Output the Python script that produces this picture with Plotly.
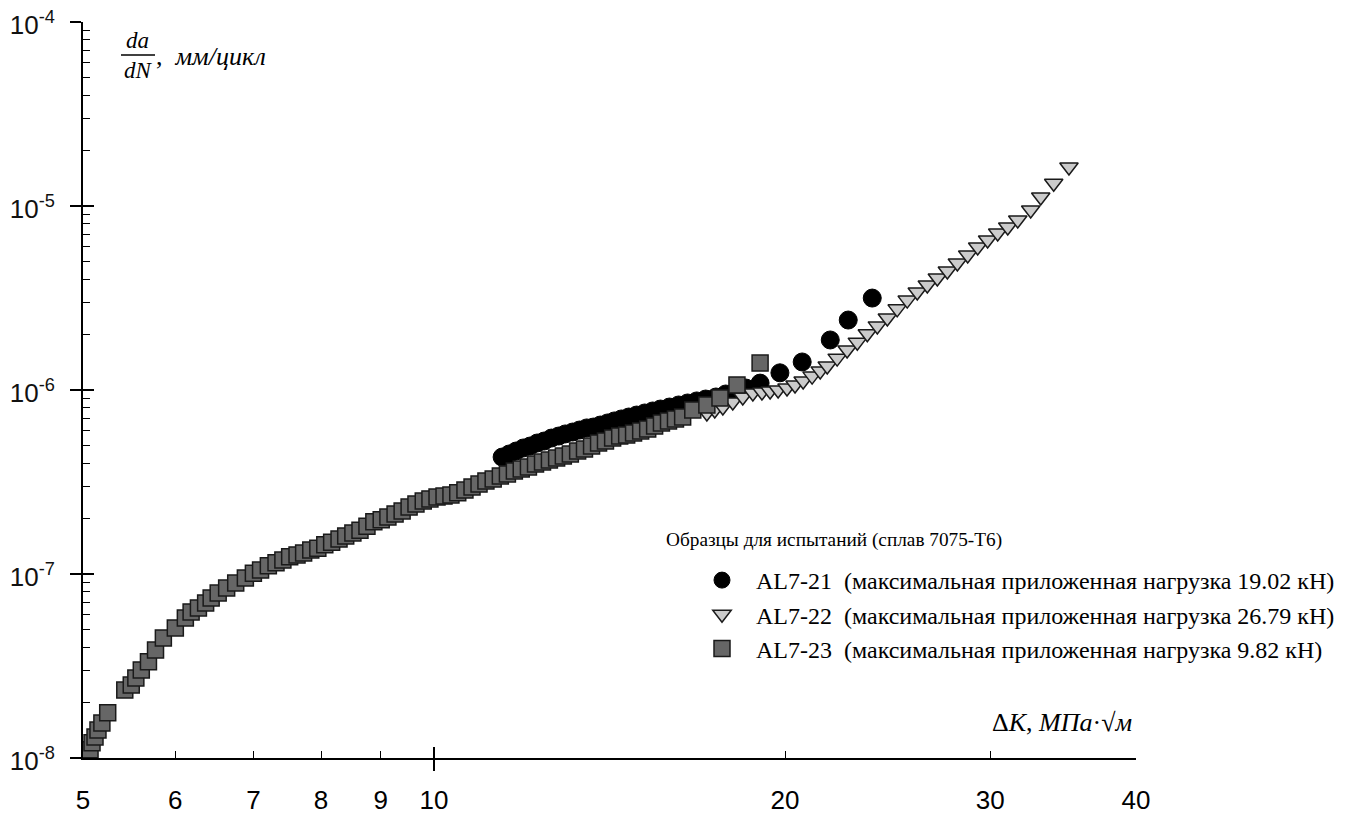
import numpy as np
import plotly.graph_objects as go

# ---------------- data ----------------
al721_dk = [11.44, 11.60, 11.76, 11.93, 12.09, 12.26, 12.43, 12.61, 12.79, 12.96,
            13.15, 13.33, 13.52, 13.70, 13.89, 14.09, 14.28, 14.48, 14.69, 14.92,
            15.16, 15.40, 15.64, 15.92, 16.21, 16.50, 16.80, 17.10, 17.45, 17.79,
            18.15, 18.51, 19.04, 19.80, 20.69, 21.87, 22.66, 23.76]
al721_rate = [4.32e-7, 4.49e-7, 4.66e-7, 4.84e-7, 4.96e-7, 5.15e-7, 5.28e-7, 5.48e-7, 5.62e-7, 5.77e-7,
              5.91e-7, 6.06e-7, 6.22e-7, 6.29e-7, 6.45e-7, 6.62e-7, 6.79e-7, 6.96e-7, 7.13e-7, 7.31e-7,
              7.50e-7, 7.69e-7, 7.88e-7, 8.08e-7, 8.29e-7, 8.50e-7, 8.72e-7, 8.93e-7, 9.16e-7, 9.51e-7,
              9.88e-7, 1.025e-6, 1.09e-6, 1.24e-6, 1.42e-6, 1.87e-6, 2.40e-6, 3.16e-6]

al722_dk = [17.14, 17.41, 17.69, 18.04, 18.40, 18.77, 19.11, 19.42, 19.73, 20.08,
            20.40, 20.73, 21.10, 21.44, 21.74, 22.17, 22.61, 23.07, 23.53, 24.00,
            24.48, 24.96, 25.46, 25.97, 26.49, 27.02, 27.56, 28.11, 28.69, 29.26,
            29.84, 30.44, 31.05, 31.67, 32.49, 33.14, 34.00, 35.04]
al722_rate = [7.50e-7, 7.79e-7, 8.08e-7, 8.61e-7, 9.16e-7, 9.63e-7, 9.75e-7, 9.88e-7, 1.00e-6, 1.025e-6,
              1.065e-6, 1.12e-6, 1.19e-6, 1.27e-6, 1.35e-6, 1.49e-6, 1.65e-6, 1.82e-6, 2.02e-6, 2.23e-6,
              2.46e-6, 2.76e-6, 3.08e-6, 3.41e-6, 3.72e-6, 4.06e-6, 4.43e-6, 4.90e-6, 5.42e-6, 5.99e-6,
              6.54e-6, 7.13e-6, 7.69e-6, 8.39e-6, 9.51e-6, 1.12e-5, 1.33e-5, 1.63e-5]

al723_dk = [5.07, 5.09, 5.12, 5.15, 5.19, 5.25, 5.43, 5.50, 5.55, 5.61,
            5.69, 5.77, 5.86, 6.00, 6.12, 6.19, 6.28, 6.37, 6.44, 6.53,
            6.64, 6.76, 6.89, 7.00, 7.10, 7.21, 7.32, 7.42, 7.52, 7.63,
            7.73, 7.84, 7.95, 8.06, 8.17, 8.29, 8.40, 8.52, 8.64, 8.76,
            8.88, 9.01, 9.13, 9.26, 9.39, 9.52, 9.65, 9.79, 9.92, 10.06,
            10.20, 10.34, 10.48, 10.63, 10.78, 10.93, 11.08, 11.24, 11.40, 11.56,
            11.72, 11.88, 12.05, 12.22, 12.39, 12.56, 12.74, 12.91, 13.09, 13.28,
            13.46, 13.65, 13.84, 14.03, 14.23, 14.43, 14.63, 14.83, 15.04, 15.25,
            15.46, 15.67, 15.89, 16.11, 16.34, 16.67, 17.14, 17.59, 18.19, 19.04]
al723_rate = [1.11e-8, 1.21e-8, 1.30e-8, 1.42e-8, 1.55e-8, 1.76e-8, 2.34e-8, 2.49e-8, 2.72e-8, 3.01e-8,
              3.33e-8, 3.86e-8, 4.49e-8, 5.09e-8, 5.77e-8, 6.22e-8, 6.54e-8, 6.96e-8, 7.41e-8, 7.88e-8,
              8.39e-8, 8.93e-8, 9.51e-8, 1.01e-7, 1.05e-7, 1.11e-7, 1.15e-7, 1.19e-7, 1.24e-7, 1.27e-7,
              1.30e-7, 1.35e-7, 1.38e-7, 1.44e-7, 1.49e-7, 1.55e-7, 1.61e-7, 1.67e-7, 1.73e-7, 1.82e-7,
              1.92e-7, 1.97e-7, 2.04e-7, 2.12e-7, 2.20e-7, 2.31e-7, 2.40e-7, 2.49e-7, 2.56e-7, 2.62e-7,
              2.65e-7, 2.69e-7, 2.76e-7, 2.86e-7, 2.97e-7, 3.08e-7, 3.20e-7, 3.28e-7, 3.41e-7, 3.50e-7,
              3.63e-7, 3.72e-7, 3.82e-7, 3.96e-7, 4.06e-7, 4.16e-7, 4.27e-7, 4.38e-7, 4.49e-7, 4.66e-7,
              4.78e-7, 4.96e-7, 5.15e-7, 5.28e-7, 5.48e-7, 5.62e-7, 5.69e-7, 5.84e-7, 5.99e-7, 6.14e-7,
              6.37e-7, 6.62e-7, 6.79e-7, 6.96e-7, 7.13e-7, 7.79e-7, 8.29e-7, 9.05e-7, 1.065e-6, 1.40e-6]

series_names = ["AL7-21\u00a0\u00a0(максимальная приложенная нагрузка 19.02 кН)",
                "AL7-22\u00a0\u00a0(максимальная приложенная нагрузка 26.79 кН)",
                "AL7-23\u00a0\u00a0(максимальная приложенная нагрузка 9.82 кН)"]
legend_title = "Образцы для испытаний (сплав 7075-Т6)"

x_tickvals = [5, 6, 7, 8, 9, 10, 20, 30, 40]
x_ticktext = ["5", "6", "7", "8", "9", "10", "20", "30", "40"]
y_tickvals = [1e-8, 1e-7, 1e-6, 1e-5, 1e-4]
y_ticktext = ["10<sup>-8</sup>", "10<sup>-7</sup>", "10<sup>-6</sup>", "10<sup>-5</sup>", "10<sup>-4</sup>"]
y_minor = [k * 10.0 ** e for e in range(-8, -4) for k in range(2, 10)]

# ---------------- figure ----------------
# the page body has an 8px margin, so the figure is drawn 8px in from the window corner
O = 8
W, H = 1365 - O, 814 - O
L, R, T, B = 83 - O, 229, 22 - O, 56
pw, ph = W - L - R, H - T - B

def px(xp):  # window pixel -> paper x
    return (xp - O - L) / pw

def py(yp):  # window pixel -> paper y
    return (H - B - (yp - O)) / ph

serif = "Liberation Serif, Times New Roman, serif"
sans = "Liberation Sans, Arial, sans-serif"

fig = go.Figure()
fig.add_trace(go.Scatter(
    x=al721_dk, y=al721_rate, mode="markers", name=series_names[0],
    legendgroup="a", cliponaxis=False,
    marker=dict(symbol="circle", size=18, color="#000000", line=dict(color="#000000", width=1))))
fig.add_trace(go.Scatter(
    x=al722_dk, y=al722_rate, mode="markers", name=series_names[1],
    legendgroup="b", cliponaxis=False,
    marker=dict(symbol="triangle-down", size=16, color="#cbcbcb", line=dict(color="#1a1a1a", width=1.5))))
fig.add_trace(go.Scatter(
    x=al723_dk, y=al723_rate, mode="markers", name=series_names[2],
    legendgroup="c", cliponaxis=False,
    marker=dict(symbol="square", size=16, color="#666666", line=dict(color="#1a1a1a", width=1.5))))

xr = [np.log10(5), np.log10(40)]
yr = [-8, -4]

fig.update_layout(
    width=W, height=H,
    margin=dict(l=L, r=R, t=T, b=B, autoexpand=False),
    paper_bgcolor="white", plot_bgcolor="white",
    showlegend=True,
    xaxis=dict(type="log", range=xr, showgrid=False, zeroline=False, automargin=False,
               showline=True, linecolor="#000", linewidth=2,
               tickmode="array", tickvals=x_tickvals, ticktext=x_ticktext,
               ticks="inside", ticklen=7, tickwidth=1.2, tickcolor="#000",
               ticklabelstandoff=18, ticklabeloverflow="allow",
               tickfont=dict(family=sans, size=26, color="#000"),
               minor=dict(tickmode="array", tickvals=[10], ticks="outside",
                          ticklen=11, tickwidth=1.5, tickcolor="#000", showgrid=False)),
    xaxis2=dict(type="log", range=xr, overlaying="x", anchor="y", side="bottom",
                automargin=False,
                showgrid=False, zeroline=False, showline=False, showticklabels=False,
                tickmode="array", tickvals=[10], ticks="inside", ticklen=11,
                tickwidth=1.5, tickcolor="#000"),
    yaxis=dict(type="log", range=yr, showgrid=False, zeroline=False, automargin=False,
               showline=True, linecolor="#000", linewidth=2,
               tickmode="array", tickvals=y_tickvals, ticktext=y_ticktext,
               ticks="outside", ticklen=11, tickwidth=1.5, tickcolor="#000",
               ticklabelstandoff=10, ticklabelshift=3, ticklabeloverflow="allow",
               tickfont=dict(family=sans, size=26, color="#111"),
               minor=dict(tickmode="array", tickvals=y_minor, ticks="inside",
                          ticklen=7, tickwidth=1.2, tickcolor="#000", showgrid=False)),
    yaxis2=dict(type="log", range=yr, overlaying="y", anchor="x", side="left",
                automargin=False,
                showgrid=False, zeroline=False, showline=False, showticklabels=False,
                tickmode="array", tickvals=y_tickvals, ticks="inside", ticklen=11,
                tickwidth=1.5, tickcolor="#000"),
    legend=dict(x=px(688), y=py(558), xanchor="left", yanchor="top",
                bgcolor="rgba(0,0,0,0)", borderwidth=0,
                font=dict(family=serif, size=24, color="#000"),
                itemwidth=58, tracegroupgap=7,
                traceorder="normal"),
)

# anchor trace for overlay axes (invisible)
fig.add_trace(go.Scatter(x=[10], y=[1e-6], xaxis="x2", yaxis="y2", mode="markers",
                         marker=dict(opacity=0), showlegend=False, hoverinfo="skip"))

# legend heading
fig.add_annotation(x=px(664), y=py(540), xref="paper", yref="paper",
                   xanchor="left", yanchor="middle",
                   text=legend_title, showarrow=False,
                   font=dict(family=serif, size=19.3, color="#000"))

# y-axis title (fraction da/dN, мм/цикл)
fig.add_annotation(x=px(137), y=py(41), xref="paper", yref="paper",
                   xanchor="center", yanchor="middle", text="<i>da</i>",
                   showarrow=False, font=dict(family=serif, size=23, color="#000"))
fig.add_annotation(x=px(138), y=py(71), xref="paper", yref="paper",
                   xanchor="center", yanchor="middle", text="<i>dN</i>",
                   showarrow=False, font=dict(family=serif, size=23, color="#000"))
fig.add_shape(type="line", xref="paper", yref="paper", x0=px(121), x1=px(155),
              y0=py(55), y1=py(55), line=dict(color="#000", width=1.3))
fig.add_annotation(x=px(154), y=py(57), xref="paper", yref="paper",
                   xanchor="left", yanchor="middle",
                   text=",\u00a0\u00a0<i>мм/цикл</i>",
                   showarrow=False, font=dict(family=serif, size=26, color="#000"))

# x-axis title
fig.add_annotation(x=px(1134), y=py(722), xref="paper", yref="paper",
                   xanchor="right", yanchor="middle",
                   text="Δ<i>K</i>,\u00a0<i>МПа</i>·√<i>м</i>",
                   showarrow=False, font=dict(family=serif, size=26, color="#000"))

fig.write_html("out.html")
